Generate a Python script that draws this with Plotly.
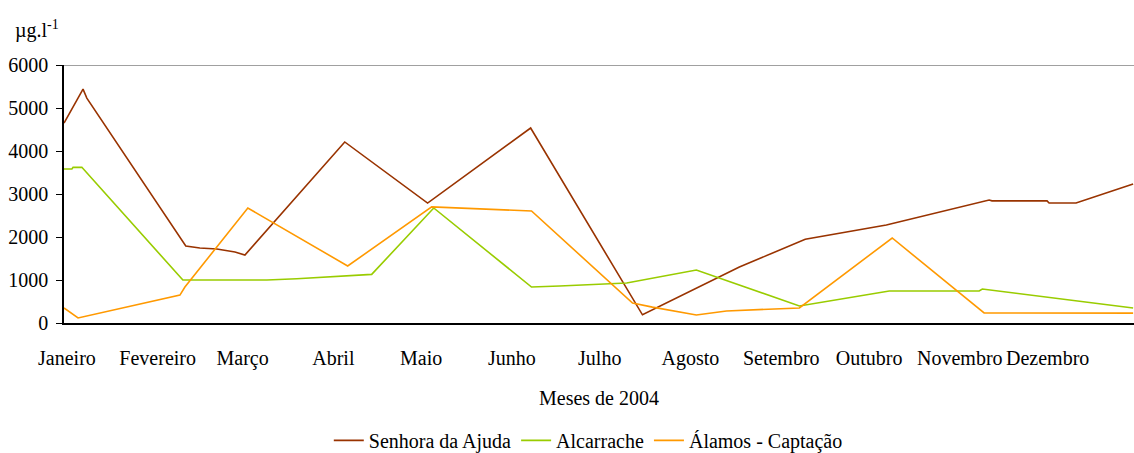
import plotly.graph_objects as go

# day of year (2004) for the first day of each month, and their labels
month_days = [1, 32, 61, 92, 122, 153, 183, 214, 245, 275, 306, 336]
month_names = ["Janeiro", "Fevereiro", "Março", "Abril", "Maio", "Junho",
               "Julho", "Agosto", "Setembro", "Outubro", "Novembro", "Dezembro"]

# Senhora da Ajuda
ajuda_day = [0, 4.8, 6.5, 7.8, 41.6, 46.4, 52.2, 58.4, 61.8, 95.9, 124.2, 159.4,
             197.6, 230.7, 253.2, 280.9, 316.0, 317.0, 335.8, 336.5, 345.7, 365.2]
ajuda_val = [4650, 5250, 5440, 5230, 1790, 1745, 1720, 1650, 1580, 4210, 2790, 4535,
             190, 1300, 1950, 2280, 2860, 2840, 2840, 2790, 2790, 3230]

# Alcarrache
alcar_day = [0, 2.7, 3.1, 6.1, 40.6, 69.3, 79.5, 89.7, 99.9, 105.1, 126.3, 159.7,
             169.3, 192.2, 216.0, 251.2, 281.9, 312.6, 313.7, 365.2]
alcar_val = [3580, 3580, 3620, 3620, 1000, 1000, 1030, 1065, 1095, 1130, 2675, 837,
             860, 930, 1233, 395, 745, 745, 790, 350]

# Álamos - Captação
alamos_day = [0, 4.8, 39.6, 41.3, 62.8, 96.9, 125.6, 133.4, 159.7, 194.2, 201.0,
              216.0, 226.3, 251.2, 282.9, 314.3, 365.2]
alamos_val = [350, 116, 650, 837, 2675, 1326, 2700, 2675, 2605, 465, 370,
              186, 280, 350, 1977, 233, 230]

series = [
    ("Senhora da Ajuda", ajuda_day, ajuda_val, "#993300"),
    ("Alcarrache", alcar_day, alcar_val, "#99CC00"),
    ("Álamos - Captação", alamos_day, alamos_val, "#FF9900"),
]

font_family = "Liberation Serif"

fig = go.Figure()
for name, xs, ys, color in series:
    fig.add_trace(
        go.Scatter(
            x=xs,
            y=ys,
            mode="lines",
            name=name,
            line=dict(color=color, width=1.6),
        )
    )

fig.update_layout(
    width=1134,
    height=453,
    margin=dict(l=64, r=0, t=65, b=130, autoexpand=False),
    plot_bgcolor="white",
    paper_bgcolor="white",
    font=dict(family=font_family, size=20, color="black"),
    showlegend=True,
    legend=dict(
        orientation="h",
        xanchor="center",
        x=0.49,
        yanchor="middle",
        y=-0.455,
        font=dict(size=20),
        itemwidth=30,
        tracegroupgap=0,
    ),
    xaxis=dict(
        range=[0, 365.5],
        tickvals=month_days,
        ticktext=month_names,
        showgrid=False,
        zeroline=False,
        showline=True,
        linecolor="black",
        linewidth=1.5,
        ticks="",
        ticklabelstandoff=16,
        automargin=False,
        title=dict(text="Meses de 2004", font=dict(size=20), standoff=22),
    ),
    yaxis=dict(
        range=[0, 6000],
        tickvals=[0, 1000, 2000, 3000, 4000, 5000, 6000],
        showgrid=False,
        zeroline=False,
        showline=True,
        linecolor="black",
        linewidth=1.5,
        ticks="outside",
        ticklen=6,
        tickcolor="black",
        ticklabelstandoff=4,
        automargin=False,
    ),
    shapes=[
        dict(type="line", xref="paper", yref="y", x0=0, x1=1, y0=6000, y1=6000,
             line=dict(color="#808080", width=1.5)),
    ],
    annotations=[
        dict(text="µg.l<sup>-1</sup>", xref="paper", yref="paper",
             x=-0.048, y=1.08, xanchor="left", yanchor="bottom",
             showarrow=False, font=dict(size=20)),
    ],
)

# the page's default body margin would push the figure 8px down and right
fig.write_html(
    "out.html",
    config={"displayModeBar": False},
    post_script="document.body.style.margin = '0px';",
)
